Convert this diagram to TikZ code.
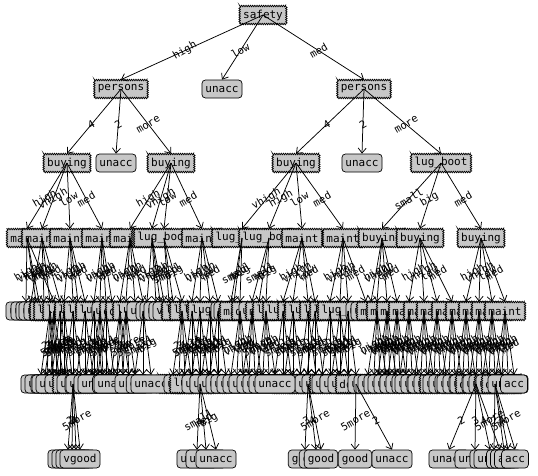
\documentclass[tikz,border=0pt]{standalone}
\usepackage{fontspec}
\newfontfamily\monofam{DejaVu Sans Mono}
\usetikzlibrary{arrows.meta,decorations.pathmorphing}
\newcommand\tkfont{\monofam\fontsize{11}{13}\selectfont}
\newcommand\tklab{\monofam\fontsize{10.5}{12}\selectfont}
\tikzset{
  dec/.style={draw, line width=0.7pt, fill=black!22, decorate,
    decoration={zigzag, segment length=2.2pt, amplitude=0.75pt},
    font=\tkfont, inner xsep=3.5pt, inner ysep=0pt, minimum height=18pt},
  leaf/.style={draw, line width=0.7pt, fill=black!22, rounded corners=3.5pt,
    font=\tkfont, inner xsep=3.5pt, inner ysep=0pt, minimum height=18pt},
  conn/.style={draw, line width=0.75pt, -{Straight Barb[length=5pt,width=8pt]}},
  lab/.style={font=\tklab, rotate=30, inner sep=0pt, pos=0.55}
}
\begin{document}
\begin{tikzpicture}[x=1pt,y=-1pt]
\fill[white] (0,0) rectangle (538,475);
\useasboundingbox (0,0) rectangle (538,475);
% level 0-2
\node[dec] (s) at (263,15) {safety};
\node[dec] (p1) at (121,89) {persons};
\node[leaf] (u1) at (222,89) {unacc};
\node[dec] (p2) at (364,89) {persons};
\node[dec] (b1) at (67,163) {buying};
\node[leaf] (u2) at (116,163) {unacc};
\node[dec] (b2) at (171,163) {buying};
\node[dec] (b3) at (296,163) {buying};
\node[leaf] (u3) at (362,163) {unacc};
\node[dec] (l1) at (441,163) {lug\_boot};
% level 3
\foreach \n/\x/\t/\s in {c31/27/maint/dec, c32/42/maint/dec, c33/70/maint/dec, c34/102/maint/dec,
  c35/130/maint/dec, c36b/152/maint/dec, c36/164/lug\_boot/dec, c37/202/maint/dec,
  c38/242/lug\_boot/dec, c39/269/lug\_boot/dec, c310/302/maint/dec, c311/343/maint/dec,
  c312/382/buying/dec, c313/420/buying/dec, c314/481/buying/dec}
  \node[\s] (\n) at (\x,238) {\t};
% level 4
\foreach \n/\x/\t/\s in {n1/26/unacc/leaf, n2/31/unacc/leaf, n3/36/unacc/leaf, n4/39/unacc/leaf,
  n5/44/unacc/leaf, n6/50/doors/dec, n7/54/doors/dec, n8/60/lug\_boot/dec, n9/64/lug\_boot/dec,
  n10/73/lug\_boot/dec, n11/78/unacc/leaf, n12/85/lug\_boot/dec, n13/94/lug\_boot/dec,
  n14/100/doors/dec, n15/106/lug\_boot/dec, n16/112/unacc/leaf, n17/120/doors/dec,
  n18/126/doors/dec, n19/135/unacc/leaf, n20/143/lug\_boot/dec, n21/147/unacc/leaf,
  n22/156/unacc/leaf, n23/160/unacc/leaf, n24/164/unacc/leaf, n25/169/unacc/leaf,
  n26/173/vgood/leaf, n27/182/doors/dec, n28/192/lug\_boot/dec, n29/200/lug\_boot/dec,
  n30/210/lug\_boot/dec, n31/218/lug\_boot/dec, n32/231/unacc/leaf, n33/234/unacc/leaf,
  n34/240/maint/dec, n35/252/doors/dec, n36/259/unacc/leaf, n37/266/maint/dec,
  n38/283/lug\_boot/dec, n39/293/lug\_boot/dec, n40/308/lug\_boot/dec, n41/315/lug\_boot/dec,
  n42/330/lug\_boot/dec, n43/340/lug\_boot/dec, n44/348/lug\_boot/dec, n45/366/unacc/leaf,
  n46/371/unacc/leaf, n47/377/maint/dec, n48/387/maint/dec, n49/397/maint/dec,
  n50/409/maint/dec, n51/424/maint/dec, n52/437/maint/dec, n53/452/maint/dec,
  n54/466/maint/dec, n55/479/maint/dec, n56/492/maint/dec, n57/505/maint/dec}
  \node[\s] (\n) at (\x,311) {\t};
% edges 0-3
\draw[conn] (s.center) -- (p1.north) node[lab]{high};
\draw[conn] (s.center) -- (u1.north) node[lab]{low};
\draw[conn] (s.center) -- (p2.north) node[lab]{med};
\foreach \p/\c/\l in {p1/b1/4, p1/u2/2, p1/b2/more, p2/b3/4, p2/u3/2, p2/l1/more,
  b1/c31/high, b1/c32/vhigh, b1/c33/low, b1/c34/med,
  b2/c35/high, b2/c36b/vhigh, b2/c36/low, b2/c37/med,
  b3/c38/vhigh, b3/c39/high, b3/c310/low, b3/c311/med,
  l1/c312/small, l1/c313/big, l1/c314/med}
  \draw[conn] (\p.center) -- (\c.north) node[lab]{\l};
% edges 3-4
\foreach \p/\c/\l in {c31/n1/high, c31/n3/vhigh, c31/n4/low, c31/n7/med,
  c32/n2/high, c32/n5/vhigh, c32/n6/low, c32/n8/med,
  c33/n9/high, c33/n10/vhigh, c33/n11/low, c33/n12/med,
  c34/n13/high, c34/n14/vhigh, c34/n15/low, c34/n16/med,
  c35/n17/high, c35/n18/vhigh, c35/n19/low, c35/n20/med,
  c36b/n21/high, c36b/n22/vhigh, c36b/n23/low, c36b/n24/med,
  c36/n25/small, c36/n26/med, c36/n27/big,
  c37/n28/high, c37/n29/vhigh, c37/n30/low, c37/n31/med,
  c38/n32/small, c38/n33/med, c38/n34/big,
  c39/n35/small, c39/n36/med, c39/n37/big,
  c310/n38/high, c310/n39/vhigh, c310/n40/low, c310/n41/med,
  c311/n42/high, c311/n43/vhigh, c311/n44/low, c311/n45/med,
  c312/n46/high, c312/n47/vhigh, c312/n48/low, c312/n49/med,
  c313/n50/high, c313/n51/vhigh, c313/n52/low, c313/n53/med,
  c314/n54/high, c314/n55/vhigh, c314/n56/low, c314/n57/med}
  \draw[conn] (\p.center) -- (\c.north) node[lab]{\l};
% level 5 : children of doors nodes
\foreach \p/\x/\sa/\ta/\sb/\tb/\sc/\tc/\sd/\td in {
  n6/50/leaf/vgood/leaf/unacc/leaf/vgood/leaf/vgood,
  n7/54/leaf/unacc/leaf/vgood/leaf/good/leaf/vgood,
  n14/100/leaf/unacc/leaf/vgood/leaf/unacc/leaf/good,
  n17/120/leaf/unacc/leaf/unacc/leaf/acc/leaf/unacc,
  n18/126/leaf/unacc/leaf/acc/leaf/unacc/leaf/acc,
  n27/182/leaf/unacc/leaf/good/dec/persons/leaf/unacc,
  n35/252/leaf/unacc/leaf/unacc/leaf/unacc/leaf/unacc}{
  \node[\sa] (\p a) at (\x-9,384) {\ta};
  \node[\sb] (\p b) at (\x-3,384) {\tb};
  \node[\sc] (\p c) at (\x+3,384) {\tc};
  \node[\sd] (\p d) at (\x+9,384) {\td};
  \draw[conn] (\p.center) -- (\p a.north) node[lab]{2};
  \draw[conn] (\p.center) -- (\p b.north) node[lab]{3};
  \draw[conn] (\p.center) -- (\p c.north) node[lab]{4};
  \draw[conn] (\p.center) -- (\p d.north) node[lab]{5more};
}
% level 5 : children of lug_boot nodes
\foreach \p/\x/\sa/\ta/\sb/\tb/\sc/\tc in {
  n8/60/leaf/unacc/dec/doors/leaf/vgood,
  n9/64/leaf/unacc/leaf/good/leaf/unacc,
  n10/73/leaf/unacc/dec/doors/leaf/good,
  n12/85/leaf/unacc/leaf/vgood/leaf/unacc,
  n13/94/leaf/unacc/leaf/vgood/leaf/unacc,
  n15/106/leaf/unacc/leaf/acc/leaf/unacc,
  n20/143/leaf/unacc/leaf/good/leaf/unacc,
  n28/192/leaf/unacc/dec/doors/leaf/unacc,
  n29/200/leaf/unacc/dec/lug\_boot/leaf/unacc,
  n30/210/leaf/unacc/leaf/unacc/leaf/vgood,
  n31/218/leaf/unacc/leaf/unacc/leaf/unacc,
  n38/283/leaf/unacc/leaf/unacc/dec/doors,
  n39/293/leaf/unacc/dec/doors/leaf/unacc,
  n40/308/leaf/unacc/dec/doors/leaf/unacc,
  n41/315/leaf/unacc/leaf/unacc/leaf/unacc,
  n42/330/leaf/unacc/dec/doors/leaf/unacc,
  n43/340/leaf/unacc/leaf/unacc/dec/doors,
  n44/348/leaf/unacc/leaf/unacc/dec/doors}{
  \node[\sa] (\p a) at (\x-8,384) {\ta};
  \node[\sb] (\p b) at (\x,384) {\tb};
  \node[\sc] (\p c) at (\x+8,384) {\tc};
  \draw[conn] (\p.center) -- (\p a.north) node[lab]{small};
  \draw[conn] (\p.center) -- (\p b.north) node[lab]{med};
  \draw[conn] (\p.center) -- (\p c.north) node[lab]{big};
}
% level 5 : children of maint nodes
\foreach \p/\x/\sa/\ta/\sb/\tb/\sc/\tc/\sd/\td in {
  n34/240/leaf/unacc/leaf/unacc/leaf/unacc/leaf/unacc,
  n37/266/leaf/unacc/leaf/unacc/leaf/unacc/leaf/unacc,
  n47/377/leaf/unacc/leaf/unacc/dec/doors/leaf/unacc,
  n48/387/leaf/unacc/leaf/unacc/leaf/unacc/leaf/unacc,
  n49/397/leaf/unacc/leaf/unacc/leaf/unacc/leaf/unacc,
  n50/409/leaf/unacc/leaf/unacc/leaf/unacc/dec/doors,
  n51/424/leaf/unacc/leaf/unacc/leaf/unacc/leaf/unacc,
  n52/437/leaf/unacc/leaf/unacc/dec/doors/leaf/unacc,
  n53/452/leaf/unacc/leaf/unacc/leaf/unacc/dec/doors,
  n54/466/leaf/unacc/leaf/unacc/leaf/unacc/leaf/unacc,
  n55/479/leaf/unacc/dec/doors/leaf/unacc/dec/doors,
  n56/492/leaf/unacc/leaf/unacc/dec/doors/dec/doors,
  n57/505/leaf/unacc/dec/doors/leaf/unacc/leaf/acc}{
  \node[\sa] (\p a) at (\x-9,384) {\ta};
  \node[\sb] (\p b) at (\x-3,384) {\tb};
  \node[\sc] (\p c) at (\x+3,384) {\tc};
  \node[\sd] (\p d) at (\x+9,384) {\td};
  \draw[conn] (\p.center) -- (\p a.north) node[lab]{high};
  \draw[conn] (\p.center) -- (\p b.north) node[lab]{vhigh};
  \draw[conn] (\p.center) -- (\p c.north) node[lab]{low};
  \draw[conn] (\p.center) -- (\p d.north) node[lab]{med};
}
% level 6
\foreach \n/\x/\t in {g1/68/unacc, g2/72/vgood, g3/76/vgood, g4/80/vgood,
  g5/197/unacc, g6/206/unacc, g7/216/unacc,
  g8/305/good, g9/316/good, g10/321/good, g11/355/good, g12/392/unacc,
  g13/449/unacc, g14/475/unacc, g15/490/unacc, g16/494/unacc,
  g17/500/acc, g18/504/acc, g19/508/acc, g20/515/acc}
  \node[leaf] (\n) at (\x,459) {\t};
\foreach \p/\c/\l in {n10b/g1/2, n10b/g2/3, n10b/g3/4, n10b/g4/5more,
  n29b/g5/small, n29b/g6/med, n29b/g7/big,
  n40b/g8/3, n40b/g9/4, n40b/g10/5more,
  n44c/g11/5more, n44c/g12/2,
  n55b/g13/2, n55b/g14/3, n55b/g15/4, n55b/g17/5more,
  n56c/g16/2, n56c/g18/3, n56c/g19/4, n56c/g20/5more}
  \draw[conn] (\p.center) -- (\c.north) node[lab]{\l};
\end{tikzpicture}
\end{document}
